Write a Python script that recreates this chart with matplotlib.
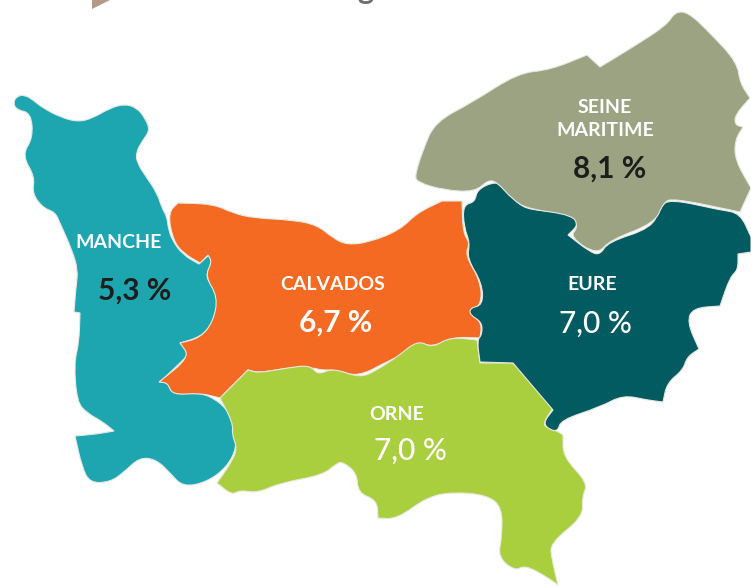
import matplotlib
matplotlib.use('Agg')
import matplotlib.pyplot as plt
import numpy as np
from matplotlib.patches import PathPatch, Polygon
from matplotlib.path import Path

plt.rcParams['font.family'] = ['Lato', 'DejaVu Sans']

# unemployment rate by departement
departments = ['MANCHE', 'CALVADOS', 'ORNE', 'EURE', 'SEINE\nMARITIME']
rates = ['5,3 %', '6,7 %', '7,0 %', '7,0 %', '8,1 %']
colors = ['#1DA6B0', '#F46A22', '#A9CF3E', '#015B61', '#9BA383']
rate_colors = ['#1d1d1b', 'white', 'white', 'white', '#1d1d1b']
rate_weights = ['bold', 'bold', 'medium', 'medium', 'bold']

manche = [(13,103),(17,96),(25,95),(33,100),(43,108),(60,117),(78,122),(93,118),(110,108),(125,104),
          (137,108),(145,118),(150,130),(143,140),(136,152),(137,163),(147,178),(157,193),(162,208),(167,217),
          (168,227),(172,240),(183,255),(199,264),(199,264),(209,255),(209,255),(212,263),(205,277),(215,288),(218,307),(212,325),
          (200,337),(180,343),(180,343),(190,353),(180,363),(160,382),(160,382),(170,383),(173,395),(200,392),(220,402),(232,417),
          (233,433),(237,447),(227,467),(207,482),(183,487),(170,473),(157,460),(140,457),(123,473),(110,482),
          (90,483),(82,467),(75,436),(75,436),(97,434),(114,431),(114,431),(103,422),(87,413),(77,402),(74,363),(79,343),
          (80,313),(80,313),(74,312),(74,312),(76,287),(78,270),(72,250),(60,223),(55,212),(43,208),(32,193),(35,177),
          (22,155),(33,138),(31,113),(17,110)]
calvados = [(168,213),(178,203),(178,203),(213,204),(233,213),(253,218),(293,220),(317,225),(333,238),(347,245),(370,242),
            (400,230),(417,213),(442,201),(442,201),(462,201),(462,201),(463,233),(470,243),(465,255),(480,280),(482,303),(470,313),
            (482,323),(480,338),(480,338),(453,337),(433,347),(418,342),(407,353),(390,360),(358,377),(337,370),(320,370),
            (315,368),(293,367),(260,373),(248,370),(248,370),(220,398),(220,398),(200,393),(172,395),(168,383),(159,382),(159,382),(190,357),
            (180,343),(180,343),(200,338),(213,322),(218,297),(205,276),(212,262),(208,255),(208,255),(200,263),(200,263),(183,253),(173,240)]
orne = [(220,398),(220,398),(248,370),(248,370),(258,373),(287,368),(310,365),(318,375),(333,368),(360,378),(377,370),(397,357),
        (418,340),(432,348),(450,337),(477,340),(477,340),(480,363),(480,363),(513,363),(513,363),(553,408),(553,408),(543,423),(547,428),(557,431),(563,435),(563,435),(563,457),
        (588,483),(582,497),(583,517),(550,543),(552,560),(558,585),(558,585),(547,577),(525,565),(515,571),(498,557),(502,537),
        (502,507),(487,495),(453,492),(427,497),(397,519),(378,518),(378,518),(377,500),(358,493),(357,473),(343,462),
        (337,463),(323,475),(280,483),(257,493),(240,490),(232,495),(217,483),(217,483),(233,460),(237,447),(232,435),(233,423)]
eure = [(463,205),(475,202),(477,190),(493,182),(502,185),(517,203),(530,210),(563,212),(577,217),(578,225),
        (568,235),(568,235),(590,252),(600,255),(608,242),(652,228),(660,207),(670,199),(720,210),(740,213),(751,237),(751,237),
        (751,252),(751,252),(738,254),(738,254),(738,270),(730,277),(720,306),(720,306),(693,308),(687,322),(699,349),(699,349),(687,357),(683,370),
        (667,383),(663,402),(663,402),(647,400),(623,395),(600,407),(561,420),(558,431),(550,430),(543,423),(553,410),(553,410),(513,363),(513,363),(480,362),(480,362),
        (477,340),(482,335),(482,322),(470,315),(470,308),(483,305),(482,283),(467,258),(470,243),(464,227)]
seine = [(415,175),(423,150),(435,122),(473,102),(518,73),(550,70),(587,55),(587,55),(600,67),(600,67),(633,47),(667,25),
         (675,12),(688,12),(710,33),(737,62),(740,83),(750,98),(750,98),(735,115),(735,125),(743,127),(743,127),(735,140),
         (735,160),(751,188),(751,188),(740,212),(740,212),(673,198),(663,203),(655,223),(610,240),(597,255),(570,237),(578,227),
         (573,215),(528,209),(513,200),(497,182),(488,180),(475,192),(443,190),(417,182)]
outlines = [manche, calvados, orne, eure, seine]

name_pos = [(119, 242), (333, 284), (397, 415), (592, 285), (605, 119)]
rate_pos = [(135, 291), (336, 323), (410, 451), (595, 324), (610, 169)]


def smooth_path(points):
    # quadratic curves through the edge midpoints, so the outline isn't angular
    pts = np.array(points, dtype=float)
    mids = (pts + np.roll(pts, -1, axis=0)) / 2
    verts = [mids[-1]]
    codes = [Path.MOVETO]
    for p, m in zip(pts, mids):
        verts += [p, m]
        codes += [Path.CURVE3, Path.CURVE3]
    return Path(verts, codes)


fig = plt.figure(figsize=(7.51, 5.86), dpi=100)
ax = fig.add_axes([0, 0, 1, 1])
ax.set_xlim(0, 751)
ax.set_ylim(586, 0)
ax.axis('off')

for outline, color in zip(outlines, colors):
    ax.add_patch(PathPatch(smooth_path(outline), facecolor=color, edgecolor='#e8e8e0', lw=0.8))

for i, name in enumerate(departments):
    ax.text(name_pos[i][0], name_pos[i][1], name, color='white', fontsize=14, fontweight='bold',
            ha='center', va='center', linespacing=1.4)
    ax.text(rate_pos[i][0], rate_pos[i][1], rates[i], color=rate_colors[i], fontsize=21.5,
            fontweight=rate_weights[i], ha='center', va='center')

# bits of the cropped title above the map
ax.add_patch(Polygon([(92, 0), (110, 0), (92, 9)], closed=True, facecolor='#B59A88', edgecolor='none'))
ax.text(365, -1, 'g', color='#6f6f6e', fontsize=22, fontweight='bold', ha='center', va='baseline', clip_on=False)

fig.savefig('out.png', dpi=100)
